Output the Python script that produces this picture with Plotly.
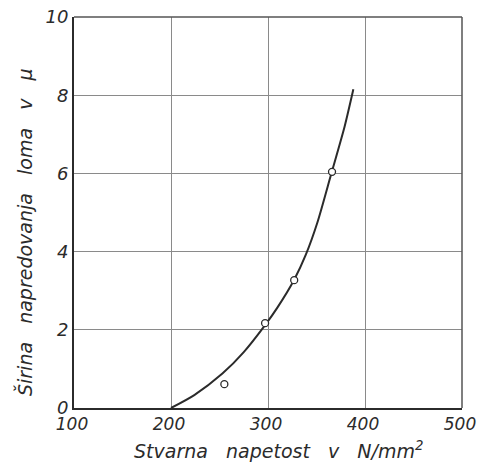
import plotly.graph_objects as go

# measured points
pts_x = [255, 297, 327, 366]
pts_y = [0.61, 2.17, 3.27, 6.04]

# fitted curve
curve_x = [200, 224, 253, 275, 297, 310, 327, 339, 351, 365, 379, 388]
curve_y = [0.0, 0.33, 0.88, 1.43, 2.12, 2.58, 3.28, 3.92, 4.75, 5.97, 7.20, 8.15]

x_ticks = [100, 200, 300, 400, 500]
y_ticks = [0, 2, 4, 6, 8, 10]

x_title = "Stvarna   napetost   v   N/mm<sup>2</sup>"
y_title = "Širina   napredovanja   loma   v   μ"

ink = "#2b2b2b"
font_fam = "DejaVu Sans, Liberation Sans, sans-serif"

fig = go.Figure()
fig.add_trace(go.Scatter(x=curve_x, y=curve_y, mode="lines",
                         line=dict(color=ink, width=2, shape="spline", smoothing=0.7),
                         hoverinfo="skip", showlegend=False))
fig.add_trace(go.Scatter(x=pts_x, y=pts_y, mode="markers",
                         marker=dict(symbol="circle", size=7, color="white",
                                     line=dict(color=ink, width=1.3)),
                         showlegend=False))

fig.update_layout(
    width=478, height=467,
    margin=dict(l=74, r=16, t=17, b=59),
    paper_bgcolor="white", plot_bgcolor="white",
    font=dict(family=font_fam, color=ink, size=15, style="italic"),
    xaxis=dict(range=[100, 500], tickvals=x_ticks, ticktext=[str(v) for v in x_ticks],
               showgrid=True, gridcolor="#8a8a8a", gridwidth=1,
               showline=True, linecolor=ink, linewidth=2, mirror=False,
               zeroline=False, ticks="", ticklen=0, automargin=False,
               ticklabelshift=-2,
               tickfont=dict(size=17, style="italic")),
    yaxis=dict(range=[0, 10], tickvals=y_ticks, ticktext=[str(v) for v in y_ticks],
               showgrid=True, gridcolor="#8a8a8a", gridwidth=1,
               showline=True, linecolor=ink, linewidth=2,
               zeroline=False, ticks="", ticklen=0, automargin=False,
               tickfont=dict(size=18, style="italic")),
    annotations=[
        dict(text=x_title, xref="paper", yref="paper", x=0.526, y=0,
             xanchor="center", yanchor="middle", yshift=-42, showarrow=False,
             font=dict(size=19, style="italic", color=ink)),
        dict(text=y_title, xref="paper", yref="paper", x=0, y=0.45,
             xanchor="center", yanchor="middle", xshift=-50, textangle=-90,
             showarrow=False, font=dict(size=19, style="italic", color=ink)),
    ],
)
fig.add_shape(type="line", xref="paper", yref="paper", x0=0, x1=1, y0=1, y1=1,
              line=dict(color="#555", width=1.5))
fig.add_shape(type="line", xref="paper", yref="paper", x0=1, x1=1, y0=0, y1=1,
              line=dict(color="#555", width=1.5))

fig.write_html("out.html", config={"displayModeBar": False})

# remove the browser's default page margin so the figure sits at the top-left corner
with open("out.html", "r", encoding="utf-8") as f:
    html = f.read()
html = html.replace("<head>", "<head><style>html,body{margin:0;padding:0;overflow:hidden;}</style>", 1)
with open("out.html", "w", encoding="utf-8") as f:
    f.write(html)
